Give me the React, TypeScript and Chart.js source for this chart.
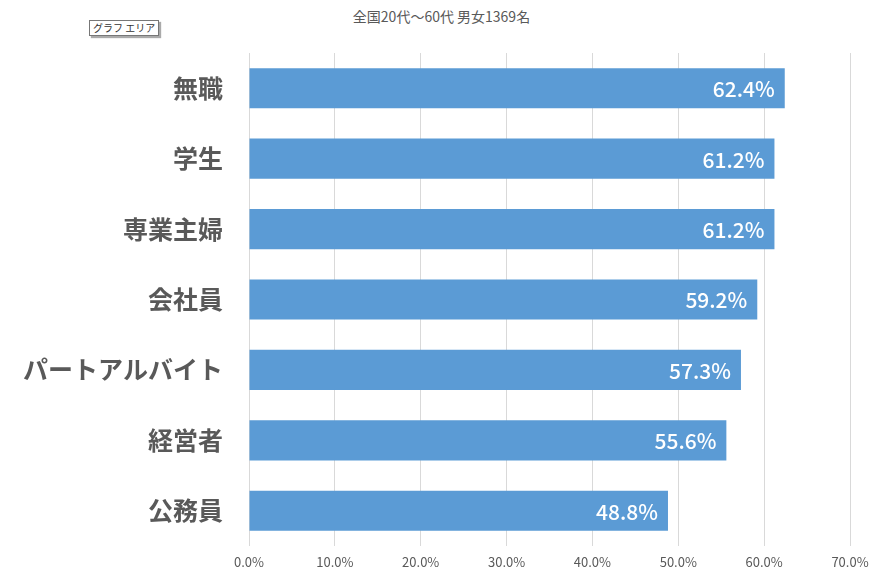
import React, { useEffect, useRef } from "react";
import { Chart, registerables } from "chart.js";
Chart.register(...registerables);

const categories = ["無職", "学生", "専業主婦", "会社員", "パートアルバイト", "経営者", "公務員"];
const values = [62.4, 61.2, 61.2, 59.2, 57.3, 55.6, 48.8];
const titleText = "全国20代〜60代 男女1369名";
const FONT = "'Noto Sans CJK JP', 'Noto Sans', sans-serif";

const labelPlugin = {
  id: "barLabels",
  afterDatasetsDraw(chart: any) {
    const ctx = chart.ctx;
    const meta = chart.getDatasetMeta(0);
    ctx.save();
    ctx.fillStyle = "#ffffff";
    ctx.font = `500 21px ${FONT}`;
    ctx.textAlign = "right";
    ctx.textBaseline = "middle";
    meta.data.forEach((bar: any, i: number) => {
      ctx.fillText(values[i].toFixed(1) + "%", bar.x - 10, bar.y + 1);
    });
    ctx.restore();
  },
};

export default function App() {
  const ref = useRef<HTMLCanvasElement>(null);
  useEffect(() => {
    document.body.style.margin = "0";
    const chart = new Chart(ref.current!, {
      type: "bar",
      data: {
        labels: categories,
        datasets: [{ data: values, backgroundColor: "#5b9bd5", categoryPercentage: 1, barPercentage: 0.57 }],
      },
      options: {
        indexAxis: "y",
        animation: false,
        responsive: false,
        maintainAspectRatio: false,
        layout: { padding: { top: 53, right: 33, left: 0, bottom: 0 } },
        plugins: { legend: { display: false }, tooltip: { enabled: false } },
        scales: {
          x: {
            min: 0, max: 70,
            ticks: { stepSize: 10, callback: (v: any) => Number(v).toFixed(1) + "%", color: "#595959", font: { size: 13, family: FONT }, padding: 8 },
            grid: { color: "#d9d9d9", drawTicks: false },
            border: { display: false },
            afterFit: (s: any) => { s.height = 37; },
          },
          y: {
            ticks: { color: "#595959", font: { size: 25, family: FONT, weight: "bold" }, padding: 26 },
            grid: { display: false, drawTicks: false },
            border: { display: false },
            afterFit: (s: any) => { s.width = 249; },
          },
        },
      },
      plugins: [labelPlugin],
    });
    return () => chart.destroy();
  }, []);
  return (
    <div style={{ position: "fixed", left: 0, top: 0, width: 883, height: 587, background: "#fff" }}>
      <div style={{ position: "absolute", top: 6, width: 883, textAlign: "center", color: "#595959", fontSize: 14, fontFamily: FONT }}>{titleText}</div>
      <div style={{ position: "absolute", left: 89, top: 20, border: "1px solid #777", boxShadow: "2px 2px 1px #aaa", background: "#fff", fontSize: 10, padding: "0 3px", fontFamily: FONT, color: "#333", lineHeight: "14px" }}>グラフ エリア</div>
      <canvas ref={ref} width={883} height={587} style={{ position: "absolute", left: 0, top: 0 }} />
    </div>
  );
}
